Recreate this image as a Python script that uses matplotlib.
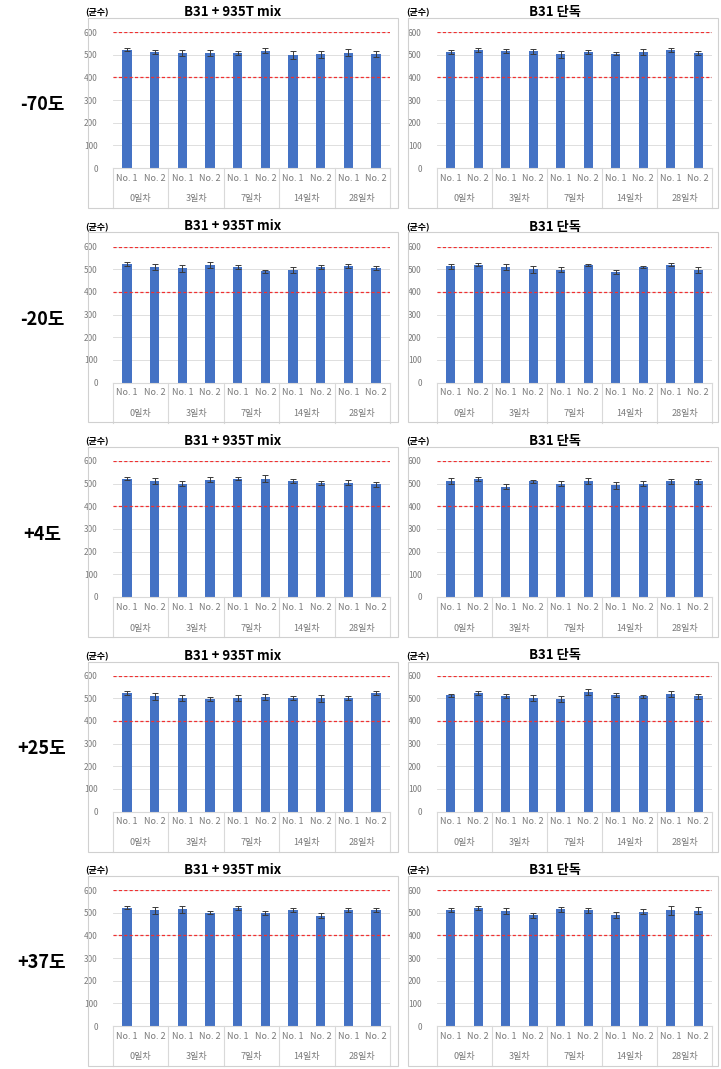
import matplotlib
matplotlib.use("Agg")
import matplotlib.pyplot as plt
import matplotlib.transforms as mtransforms
from matplotlib.patches import Rectangle
import numpy as np

plt.rcParams["font.family"] = ["Noto Sans CJK KR", "DejaVu Sans"]

# --- data -----------------------------------------------------------------
days = ["0일차", "3일차", "7일차", "14일차", "28일차"]
reps = ["No. 1", "No. 2"]
temps = ["-70도", "-20도", "+4도", "+25도", "+37도"]
titles = ["B31 + 935T mix", "B31 단독"]
unit_label = "(균수)"
y_ticks = [0, 100, 200, 300, 400, 500, 600]
ref_lines = [600, 400]

mix_m70 = [522, 512, 508, 508, 508, 518, 498, 502, 508, 502]
mix_m70_err = [8, 10, 12, 12, 10, 12, 18, 15, 15, 12]
solo_m70 = [512, 520, 515, 515, 502, 512, 505, 512, 520, 508]
solo_m70_err = [8, 10, 8, 12, 15, 10, 8, 12, 8, 10]

mix_m20 = [522, 510, 503, 518, 510, 490, 497, 510, 515, 505]
mix_m20_err = [8, 12, 15, 12, 8, 8, 12, 10, 8, 10]
solo_m20 = [512, 520, 510, 500, 498, 518, 488, 510, 520, 497]
solo_m20_err = [10, 8, 12, 15, 10, 5, 10, 5, 8, 12]

mix_p4 = [522, 512, 500, 518, 522, 522, 512, 503, 505, 497]
mix_p4_err = [8, 15, 12, 10, 8, 15, 8, 10, 10, 12]
solo_p4 = [512, 520, 487, 510, 500, 512, 492, 500, 510, 510]
solo_p4_err = [12, 8, 10, 8, 12, 12, 15, 10, 10, 12]

mix_p25 = [522, 508, 500, 497, 500, 505, 500, 500, 500, 522]
mix_p25_err = [8, 15, 12, 10, 12, 15, 8, 15, 8, 8]
solo_p25 = [512, 522, 510, 500, 497, 527, 515, 508, 518, 508]
solo_p25_err = [8, 10, 8, 12, 12, 12, 10, 8, 12, 12]

mix_p37 = [522, 510, 515, 500, 520, 498, 512, 487, 512, 512]
mix_p37_err = [8, 15, 15, 8, 10, 10, 8, 12, 8, 8]
solo_p37 = [512, 520, 508, 488, 515, 510, 490, 505, 510, 508]
solo_p37_err = [10, 10, 12, 12, 10, 12, 12, 12, 20, 15]

rows = [
    ((mix_m70, mix_m70_err), (solo_m70, solo_m70_err)),
    ((mix_m20, mix_m20_err), (solo_m20, solo_m20_err)),
    ((mix_p4, mix_p4_err), (solo_p4, solo_p4_err)),
    ((mix_p25, mix_p25_err), (solo_p25, solo_p25_err)),
    ((mix_p37, mix_p37_err), (solo_p37, solo_p37_err)),
]

# --- layout (pixels) -------------------------------------------------------
W, H = 721, 1069
ROW_STEP = 214.5
PLOT_TOP0 = 32
PLOT_H = 136
PANEL_X = [(113, 390), (437, 712)]
BORDER_X = [(88, 398), (408, 718)]
TITLE_X = [233, 555]
UNIT_X = [97, 418]

BAR_COLOR = "#4472C4"
GRID_COLOR = "#D9D9D9"
TEXT_GRAY = "#7A7A7A"

fig = plt.figure(figsize=(W / 100, H / 100), dpi=100)
fig.patch.set_facecolor("white")


def fx(px):
    return px / W


def fy(py):
    return 1 - py / H


def draw_panel(ax, means, errs):
    n = len(days) * len(reps)
    x = np.arange(n)
    ax.set_xlim(-0.5, n - 0.5)
    ax.set_ylim(0, 600)
    for y in y_ticks[1:]:
        ax.axhline(y, color=GRID_COLOR, lw=0.6, zorder=0)
    ax.bar(x, means, width=0.34, color=BAR_COLOR, zorder=2)
    ax.errorbar(x, means, yerr=errs, fmt="none", ecolor="#3A3A3A",
                elinewidth=0.7, capsize=2, capthick=0.7, zorder=3)
    for y in ref_lines:
        ax.axhline(y, color="#F03030", lw=0.9, dashes=(2.5, 1.8), zorder=4)

    ax.set_yticks(y_ticks)
    ax.set_yticklabels([str(v) for v in y_ticks], fontsize=6, color=TEXT_GRAY)
    ax.tick_params(axis="y", length=0, pad=11)
    ax.set_xticks(x)
    ax.set_xticklabels(reps * len(days), fontsize=6.5, color=TEXT_GRAY)
    ax.tick_params(axis="x", length=0, pad=4)
    for s in ax.spines.values():
        s.set_visible(False)

    trans = mtransforms.blended_transform_factory(ax.transData, ax.transAxes)
    low = -40 / PLOT_H
    ax.plot([-0.5, n - 0.5], [0, 0], transform=trans, color=GRID_COLOR,
            lw=0.8, clip_on=False)
    for k in range(len(days) + 1):
        xb = -0.5 + k * len(reps)
        ax.plot([xb, xb], [0, low], transform=trans, color=GRID_COLOR,
                lw=0.8, clip_on=False)
    for k, d in enumerate(days):
        xc = k * len(reps) + 0.5
        ax.text(xc, -31 / PLOT_H, d, transform=trans, ha="center", va="center",
                fontsize=6.5, color=TEXT_GRAY)


for i, (temp, pair) in enumerate(zip(temps, rows)):
    top = PLOT_TOP0 + i * ROW_STEP
    fig.text(fx(42), fy(top + 73), temp, ha="center", va="center",
             fontsize=13, fontweight="bold", color="black")
    for j, (means, errs) in enumerate(pair):
        bx0, bx1 = BORDER_X[j]
        fig.patches.append(Rectangle((fx(bx0), fy(top + 176)), fx(bx1 - bx0),
                                     (190) / H, transform=fig.transFigure,
                                     fill=False, edgecolor="#D0D0D0", lw=0.8))
        fig.text(fx(TITLE_X[j]), fy(top - 20), titles[j], ha="center",
                 va="center", fontsize=9.5, fontweight="bold")
        fig.text(fx(UNIT_X[j]), fy(top - 19), unit_label, ha="center",
                 va="center", fontsize=6.5, fontweight="bold")
        x0, x1 = PANEL_X[j]
        ax = fig.add_axes([fx(x0), fy(top + PLOT_H), fx(x1 - x0), PLOT_H / H])
        ax.set_facecolor("none")
        draw_panel(ax, means, errs)

fig.savefig("out.png", dpi=100, facecolor="white")
